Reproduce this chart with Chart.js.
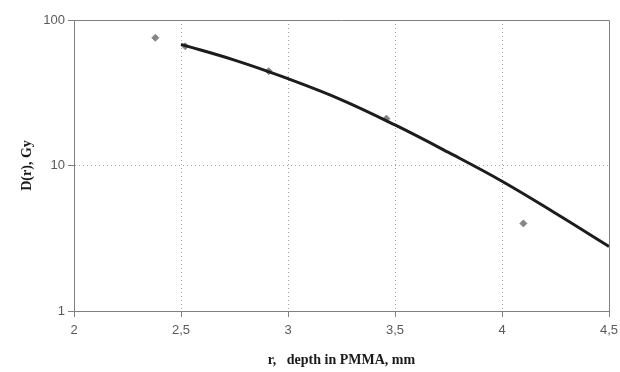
<!DOCTYPE html>
<html>
<head>
<meta charset="utf-8">
<script src="https://cdn.jsdelivr.net/npm/chart.js@4/dist/chart.umd.min.js"></script>
<style>
  html, body { margin: 0; padding: 0; background: #ffffff; }
  #wrap { width: 620px; height: 372px; }
</style>
</head>
<body>
<div id="wrap"><canvas id="c" width="620" height="372"></canvas></div>
<script>
// Measured data points (r in mm, D in Gy)
const measuredR = [2.38, 2.52, 2.91, 3.46, 4.1];
const measuredD = [75.5, 66, 44.5, 21, 4.0];

// Fitted curve (r in mm, D in Gy)
const fitR = [2.5, 2.75, 3.0, 3.25, 3.5, 3.75, 4.0, 4.25, 4.5];
const fitD = [68, 53, 39.5, 28.3, 19, 12.3, 7.8, 4.7, 2.78];

// Tick labels
const xTicks = [2, 2.5, 3, 3.5, 4, 4.5];
const yTicks = [1, 10, 100];

const xTitle = 'r,   depth in PMMA, mm';
const yTitle = 'D(r), Gy';

const toPts = (xs, ys) => xs.map((x, i) => ({ x: x, y: ys[i] }));
const fmt = v => String(v).replace('.', ',');

const frame = {
  id: 'frame',
  beforeDatasetsDraw(chart) {
    const a = chart.chartArea, ctx = chart.ctx;
    ctx.save();
    ctx.strokeStyle = '#808080';
    ctx.lineWidth = 1;
    ctx.beginPath();
    ctx.moveTo(a.left, a.top + 0.5);
    ctx.lineTo(a.right + 0.5, a.top + 0.5);
    ctx.lineTo(a.right + 0.5, a.bottom);
    ctx.stroke();
    ctx.restore();
  }
};

new Chart(document.getElementById('c'), {
  type: 'scatter',
  data: {
    datasets: [
      {
        label: 'fit',
        data: toPts(fitR, fitD),
        showLine: true,
        borderColor: '#1c1c1c',
        borderWidth: 3,
        pointRadius: 0,
        tension: 0.4,
        fill: false
      },
      {
        label: 'measured',
        data: toPts(measuredR, measuredD),
        showLine: false,
        pointStyle: 'rectRot',
        pointRadius: 3.5,
        backgroundColor: '#858585',
        borderColor: '#858585',
        borderWidth: 1
      }
    ]
  },
  options: {
    responsive: false,
    devicePixelRatio: 1,
    animation: false,
    layout: { padding: { top: 20, right: 11, left: 0, bottom: 0 } },
    plugins: { legend: { display: false }, tooltip: { enabled: false } },
    scales: {
      x: {
        type: 'linear',
        min: 2, max: 4.5,
        afterBuildTicks: s => { s.ticks = xTicks.map(v => ({ value: v })); },
        afterFit: s => { s.height = 61; s.paddingRight = 0; s.paddingLeft = 0; },
        ticks: {
          callback: v => fmt(v),
          color: '#5a5a5a',
          font: { family: 'Liberation Sans', size: 13 },
          padding: 6,
          maxRotation: 0
        },
        grid: {
          color: ctx => (ctx.tick && (ctx.tick.value === 2 || ctx.tick.value === 4.5)) ? 'rgba(0,0,0,0)' : '#a8a8a8',
          lineWidth: 1,
          drawTicks: true,
          tickLength: 6,
          tickColor: '#808080',
          tickBorderDash: []
        },
        border: { display: true, color: '#808080', width: 1, dash: [1, 3] },
        title: {
          display: true,
          text: xTitle,
          color: '#1a1a1a',
          font: { family: 'Liberation Serif', size: 14, weight: 'bold' },
          padding: { top: 0, bottom: 3 }
        }
      },
      y: {
        type: 'logarithmic',
        min: 1, max: 100,
        afterBuildTicks: s => { s.ticks = yTicks.map(v => ({ value: v })); },
        afterFit: s => { s.width = 74; },
        ticks: {
          callback: v => String(v),
          color: '#5a5a5a',
          font: { family: 'Liberation Sans', size: 13 },
          padding: 3
        },
        grid: {
          color: ctx => (ctx.tick && (ctx.tick.value === 1 || ctx.tick.value === 100)) ? 'rgba(0,0,0,0)' : '#a8a8a8',
          lineWidth: 1,
          drawTicks: true,
          tickLength: 6,
          tickColor: '#808080',
          tickBorderDash: []
        },
        border: { display: true, color: '#808080', width: 1, dash: [1, 3] },
        title: {
          display: true,
          text: yTitle,
          color: '#1a1a1a',
          font: { family: 'Liberation Serif', size: 14, weight: 'bold' },
          padding: { top: 19, bottom: 0 }
        }
      }
    }
  },
  plugins: [frame]
});
</script>
</body>
</html>
